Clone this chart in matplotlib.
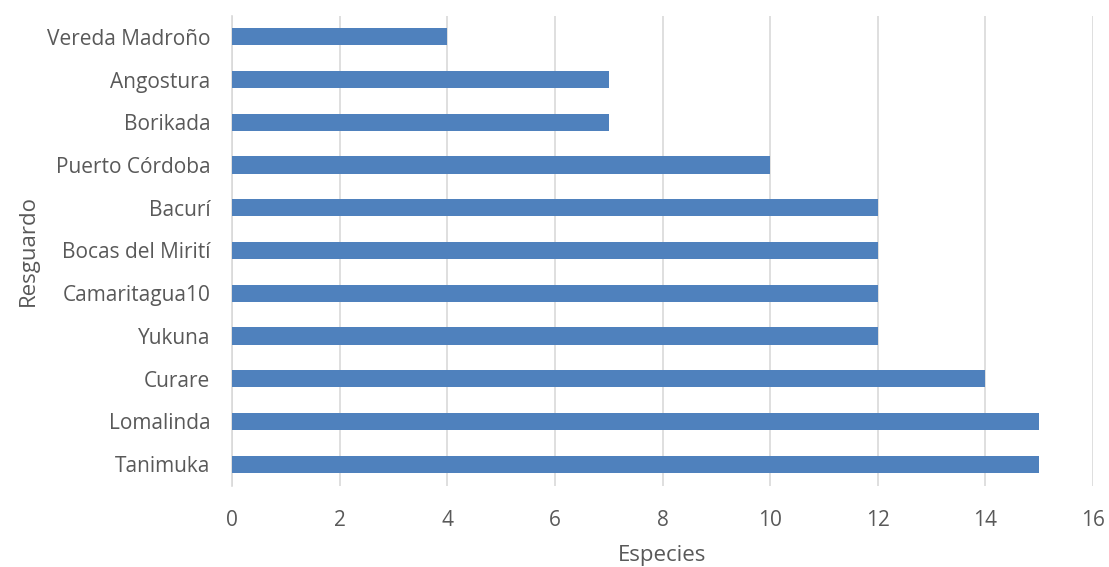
import matplotlib.pyplot as plt

# Number of species per resguardo (top to bottom as listed)
resguardos = ["Vereda Madroño", "Angostura", "Borikada", "Puerto Córdoba", "Bacurí",
              "Bocas del Mirití", "Camaritagua10", "Yukuna", "Curare", "Lomalinda", "Tanimuka"]
especies = [4, 7, 7, 10, 12, 12, 12, 12, 14, 15, 15]
x_ticks = [0, 2, 4, 6, 8, 10, 12, 14, 16]

plt.rcParams['font.family'] = ['Open Sans', 'DejaVu Sans']
text_color = "#595959"
grid_color = "#d9d9d9"
bar_color = "#4f81bd"

fig = plt.figure(figsize=(11.09, 5.67), dpi=100)
ax = fig.add_axes([232 / 1109, 1 - 485.5 / 567, (1093 - 232) / 1109, (485.5 - 15.5) / 567])

pos = list(range(len(resguardos)))[::-1]
ax.barh(pos, especies, height=0.4, color=bar_color, zorder=3)

ax.set_xlim(0, 16)
ax.set_ylim(-0.5, len(resguardos) - 0.5)
ax.set_xticks(x_ticks)
ax.set_yticks(pos)
ax.set_yticklabels(resguardos)

ax.grid(axis='x', color=grid_color, linewidth=1.2, zorder=0)
for s in ["top", "right", "bottom"]:
    ax.spines[s].set_visible(False)
ax.spines["left"].set_color(grid_color)
ax.spines["left"].set_linewidth(1.2)

ax.tick_params(axis='both', length=0, labelsize=15, labelcolor=text_color)
ax.tick_params(axis='y', pad=15.5)
ax.tick_params(axis='x', pad=18)

ax.set_xlabel("Especies", fontsize=16, color=text_color, labelpad=10)
ax.set_ylabel("Resguardo", fontsize=16, color=text_color, labelpad=6)

fig.savefig("out.png", dpi=100)
